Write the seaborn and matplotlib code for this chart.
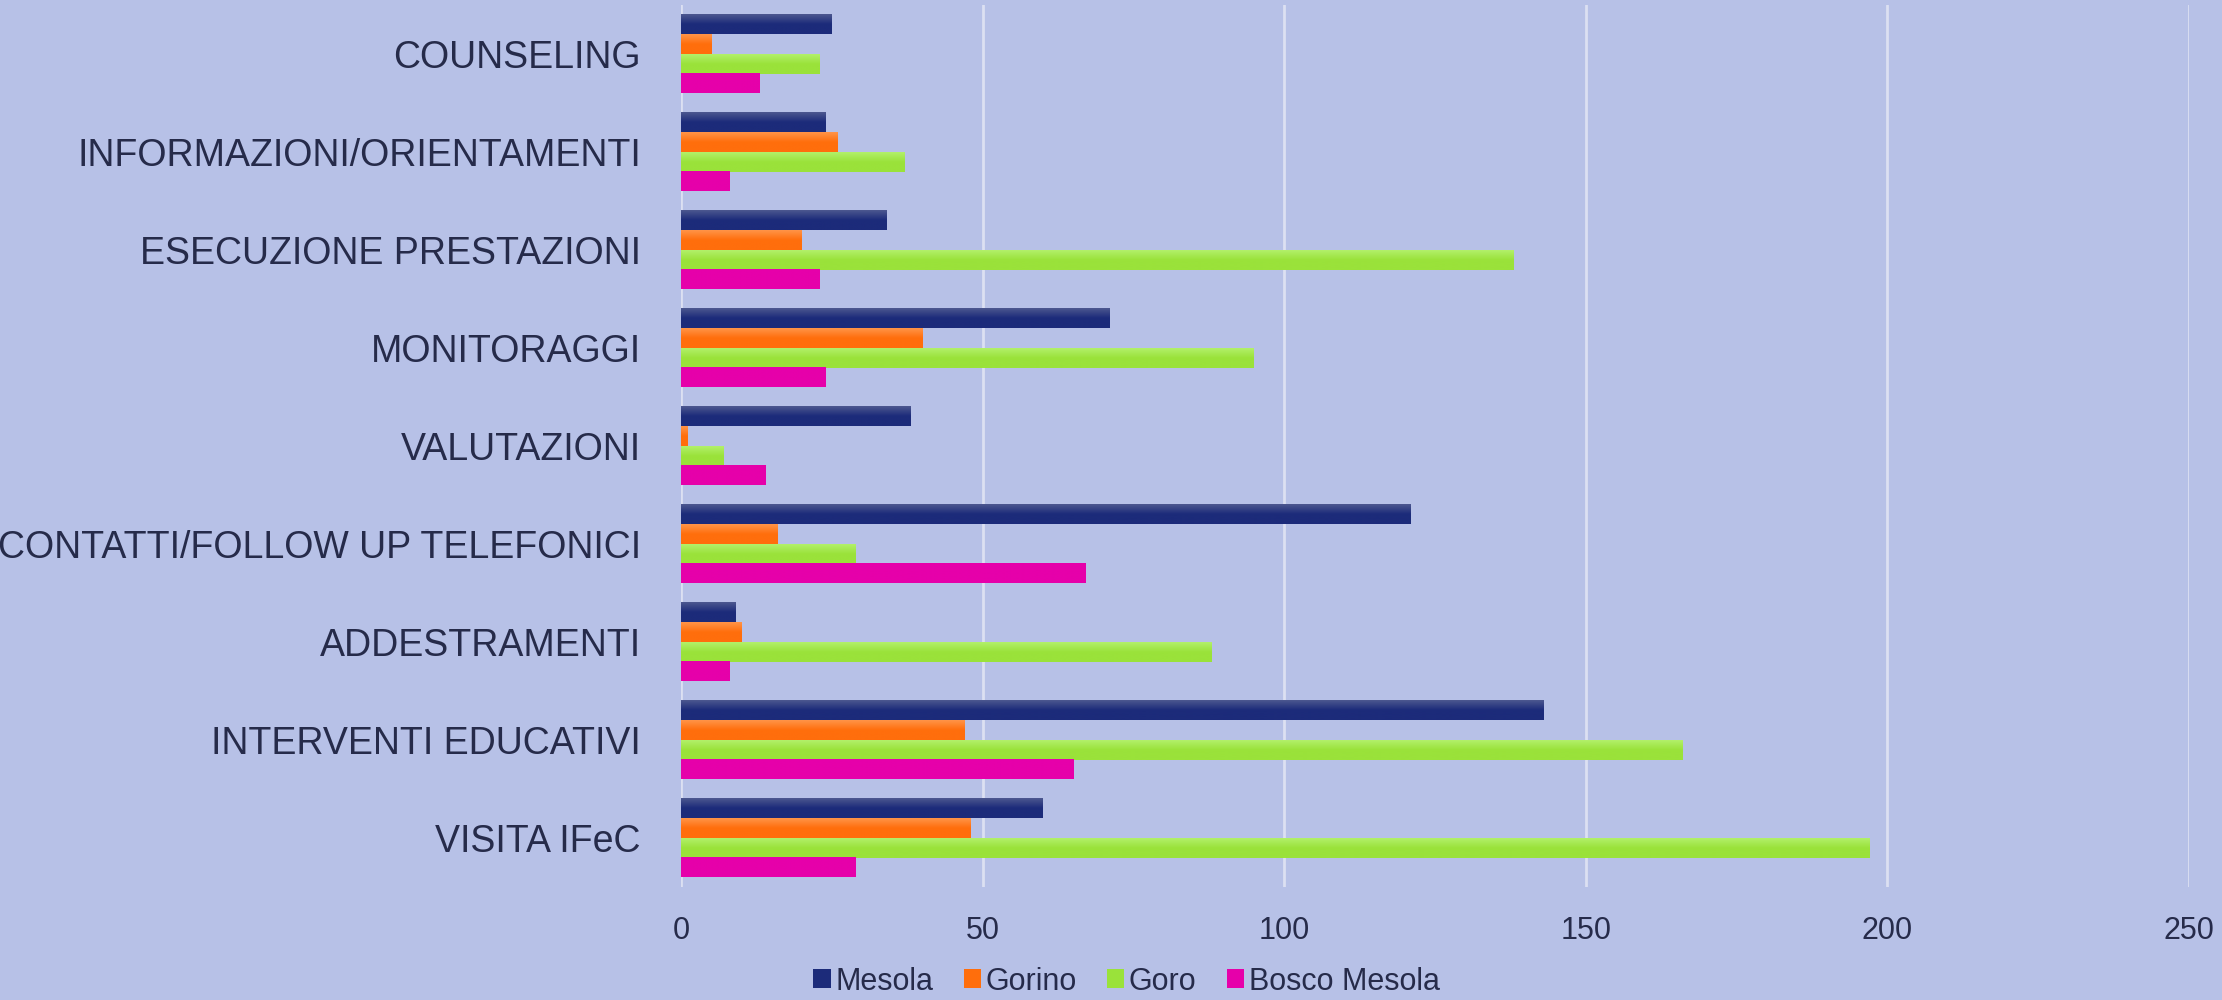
import numpy as np
import pandas as pd
import matplotlib
matplotlib.use("Agg")
import matplotlib.pyplot as plt
import seaborn as sns
from matplotlib.colors import LinearSegmentedColormap
from matplotlib.patches import Patch

categories = ["COUNSELING", "INFORMAZIONI/ORIENTAMENTI", "ESECUZIONE PRESTAZIONI",
              "MONITORAGGI", "VALUTAZIONI", "CONTATTI/FOLLOW UP TELEFONICI",
              "ADDESTRAMENTI", "INTERVENTI EDUCATIVI", "VISITA IFeC"]
series = ["Mesola", "Gorino", "Goro", "Bosco Mesola"]
mesola = [25, 24, 34, 71, 38, 121, 9, 143, 60]
gorino = [5, 26, 20, 40, 1, 16, 10, 47, 48]
goro = [23, 37, 138, 95, 7, 29, 88, 166, 197]
bosco = [13, 8, 23, 24, 14, 67, 8, 65, 29]
xticks = [0, 50, 100, 150, 200, 250]

base = ["#1C2B7A", "#FF6E0C", "#9AE23A", "#E600AA"]
light = ["#4C578F", "#FF9448", "#B2F06A", "#E600AA"]
bg = "#B7C1E7"
txt = "#262B4A"

df = pd.DataFrame({
    "cat": categories * 4,
    "serie": [s for s in series for _ in categories],
    "val": mesola + gorino + goro + bosco,
})

sns.set_theme(style="white")
plt.rcParams["font.family"] = ["Liberation Sans", "DejaVu Sans"]

fig = plt.figure(figsize=(22.22, 10), dpi=100, facecolor=bg)
ax = fig.add_axes([0.3065, 0.113, 0.9851 - 0.3065, 0.882])
ax.set_facecolor(bg)

sns.barplot(data=df, y="cat", x="val", hue="serie", hue_order=series,
            order=categories, palette=base, orient="h", width=0.8,
            saturation=1, legend=False, ax=ax, linewidth=0)

ax.set_xlim(0, 250)
ylim = ax.get_ylim()

# gradient fill over each bar
for i, s in enumerate(series):
    cmap = LinearSegmentedColormap.from_list(s, [light[i], base[i], base[i]])
    grad = np.linspace(0, 1, 64).reshape(-1, 1)
    for p in ax.containers[i]:
        x0, y0 = p.get_x(), p.get_y()
        w, h = p.get_width(), p.get_height()
        if w <= 0:
            continue
        ax.imshow(grad, cmap=cmap, aspect="auto", origin="upper",
                  extent=(x0, x0 + w, y0 + h, y0), zorder=p.get_zorder() + 0.1)
ax.set_xlim(0, 250)
ax.set_ylim(ylim)

ax.set_xticks(xticks)
ax.set_xticklabels([str(t) for t in xticks])
ax.grid(axis="x", color="#DCE0F2", linewidth=2)
ax.grid(axis="y", visible=False)
ax.set_axisbelow(True)
for sp in ax.spines.values():
    sp.set_visible(False)
ax.set_xlabel("")
ax.set_ylabel("")
ax.tick_params(axis="y", length=0, pad=29, labelsize=27, labelcolor=txt)
ax.tick_params(axis="x", length=0, pad=21, labelsize=22, labelcolor=txt)

handles = [Patch(facecolor=c, edgecolor="none") for c in base]
fig.legend(handles, series, loc="lower center", bbox_to_anchor=(0.507, -0.024),
           ncol=4, frameon=False, fontsize=22, labelcolor=txt,
           handlelength=0.56, handleheight=0.56, handletextpad=0.15, columnspacing=1.0)

fig.savefig("out.png", dpi=100, facecolor=bg)
